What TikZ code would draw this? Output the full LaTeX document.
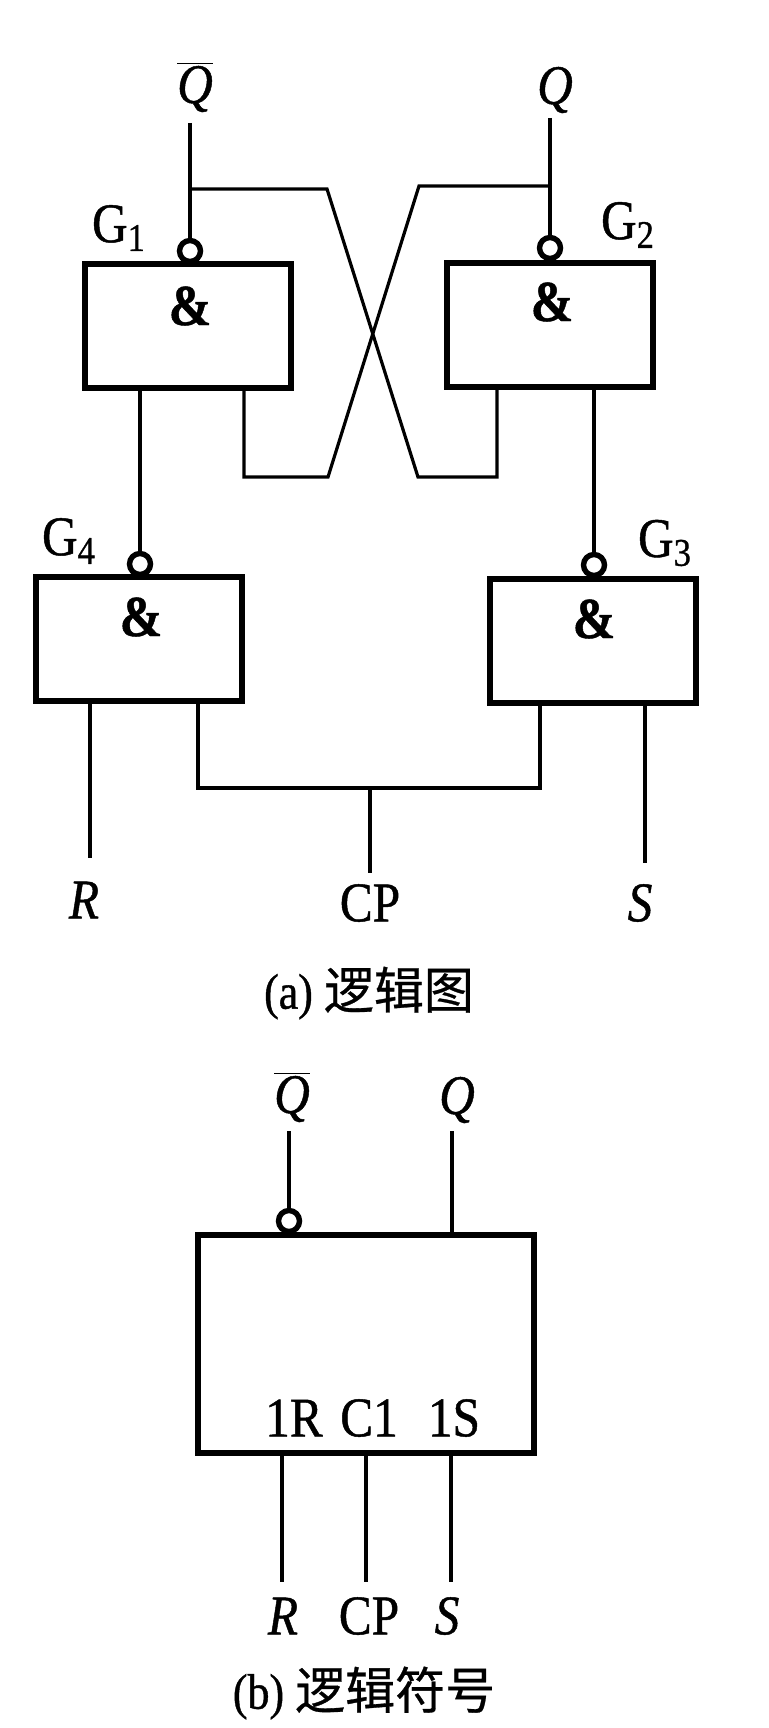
\documentclass[tikz,border=0pt]{standalone}
\usepackage{fontspec}
\setmainfont{Liberation Serif}[FakeStretch=0.88,FakeBold=0.8]
\newfontfamily\cjk{Noto Sans CJK SC}[FakeBold=0.6]
\begin{document}
\begin{tikzpicture}[
		x=0.5pt,y=-0.5pt,
		wire/.style={line width=1.6pt},
		gatebox/.style={draw,line width=3.4pt,minimum width=103pt,minimum height=62pt,inner sep=0pt,outer sep=0pt},
		bubble/.style={circle,draw,line width=2.7pt,fill=white,minimum size=10.5pt,inner sep=0pt,outer sep=0pt},
		lbl/.style={inner sep=0pt,font=\fontsize{28}{28}\selectfont},
		captext/.style={inner sep=0pt,font=\fontsize{25}{25}\selectfont},
		amp/.style={inner sep=0pt,font=\fontsize{29}{29}\selectfont\bfseries}
	]
	\useasboundingbox (0,0) rectangle (768,1728);
	\node[gatebox] (g1) at (188,326) {};
	\node[gatebox] (g2) at (550,325) {};
	\node[gatebox] (g4) at (139,639) {};
	\node[gatebox] (g3) at (593,641) {};
	\node[amp] (a1) at (190,306) {\&};
	\node[amp] (a2) at (552,302) {\&};
	\node[amp] (a4) at (141,617) {\&};
	\node[amp] (a3) at (594,619) {\&};
	\node[bubble] (b1) at (190,251) {};
	\node[bubble] (b2) at (550,248) {};
	\node[bubble] (b4) at (140,564) {};
	\node[bubble] (b3) at (594,565) {};
	\node[lbl] (n1) at (119,228) {G\textsubscript{1}};
	\node[lbl] (n2) at (628,225) {G\textsubscript{2}};
	\node[lbl] (n4) at (69,541) {G\textsubscript{4}};
	\node[lbl] (n3) at (665,543) {G\textsubscript{3}};
	\node[lbl] (qb) at (195,87) {$\overline{\mbox{\textit{Q}}}$};
	\node[lbl] (q) at (555,90) {\textit{Q}};
	\node[lbl] (r) at (84,900) {\textit{R}};
	\node[lbl] (cp) at (370,903) {CP};
	\node[lbl] (s) at (640,903) {\textit{S}};
	\node[captext] (capa) at (369,993) {(a) {\cjk 逻辑图}};
	\coordinate (qbt) at (190,123);
	\coordinate (qt) at (550,118);
	\coordinate (qbj) at (190,189);
	\coordinate (qj) at (550,186);
	\coordinate (xa) at (327,189);
	\coordinate (xb) at (418,477);
	\coordinate (xc) at (419,186);
	\coordinate (xd) at (328,477);
	\coordinate (fa) at (497,477);
	\coordinate (fb) at (244,477);
	\coordinate (rt) at (90,858);
	\coordinate (st) at (645,863);
	\coordinate (cpt) at (370,873);
	\coordinate (ca) at (198,788);
	\coordinate (cb) at (540,788);
	\coordinate (cj) at (370,788);
	\draw[wire] (qbt) -- (b1);
	\draw[wire] (qt) -- (b2);
	\draw[wire,line join=miter] (qbj) -- (xa) -- (xb) -- (fa) -- (g2.south -| fa);
	\draw[wire,line join=miter] (qj) -- (xc) -- (xd) -- (fb) -- (g1.south -| fb);
	\draw[wire] (g1.south -| b4) -- (b4);
	\draw[wire] (g2.south -| b3) -- (b3);
	\draw[wire] (g4.south -| rt) -- (rt);
	\draw[wire] (g3.south -| st) -- (st);
	\draw[wire] (g4.south -| ca) -- (ca) -- (cb) -- (g3.south -| cb);
	\draw[wire] (cj) -- (cpt);
	\node[gatebox,minimum width=168pt,minimum height=109pt] (ff) at (366,1344) {};
	\node[bubble] (bf) at (289,1221) {};
	\node[lbl] (qb2) at (292,1097) {$\overline{\mbox{\textit{Q}}}$};
	\node[lbl] (q2) at (457,1100) {\textit{Q}};
	\node[lbl] (p1) at (294,1418) {1R};
	\node[lbl] (p2) at (369,1418) {C1};
	\node[lbl] (p3) at (454,1418) {1S};
	\node[lbl] (r2) at (283,1616) {\textit{R}};
	\node[lbl] (cp2) at (369,1616) {CP};
	\node[lbl] (s2) at (447,1616) {\textit{S}};
	\node[captext] (capb) at (364,1693) {(b) {\cjk 逻辑符号}};
	\coordinate (qbt2) at (289,1131);
	\coordinate (qt2) at (452,1131);
	\coordinate (rt2) at (282,1582);
	\coordinate (cpt2) at (366,1582);
	\coordinate (st2) at (451,1582);
	\draw[wire] (qbt2) -- (bf);
	\draw[wire] (qt2) -- (ff.north -| qt2);
	\draw[wire] (ff.south -| rt2) -- (rt2);
	\draw[wire] (ff.south -| cpt2) -- (cpt2);
	\draw[wire] (ff.south -| st2) -- (st2);
\end{tikzpicture}
\end{document}
